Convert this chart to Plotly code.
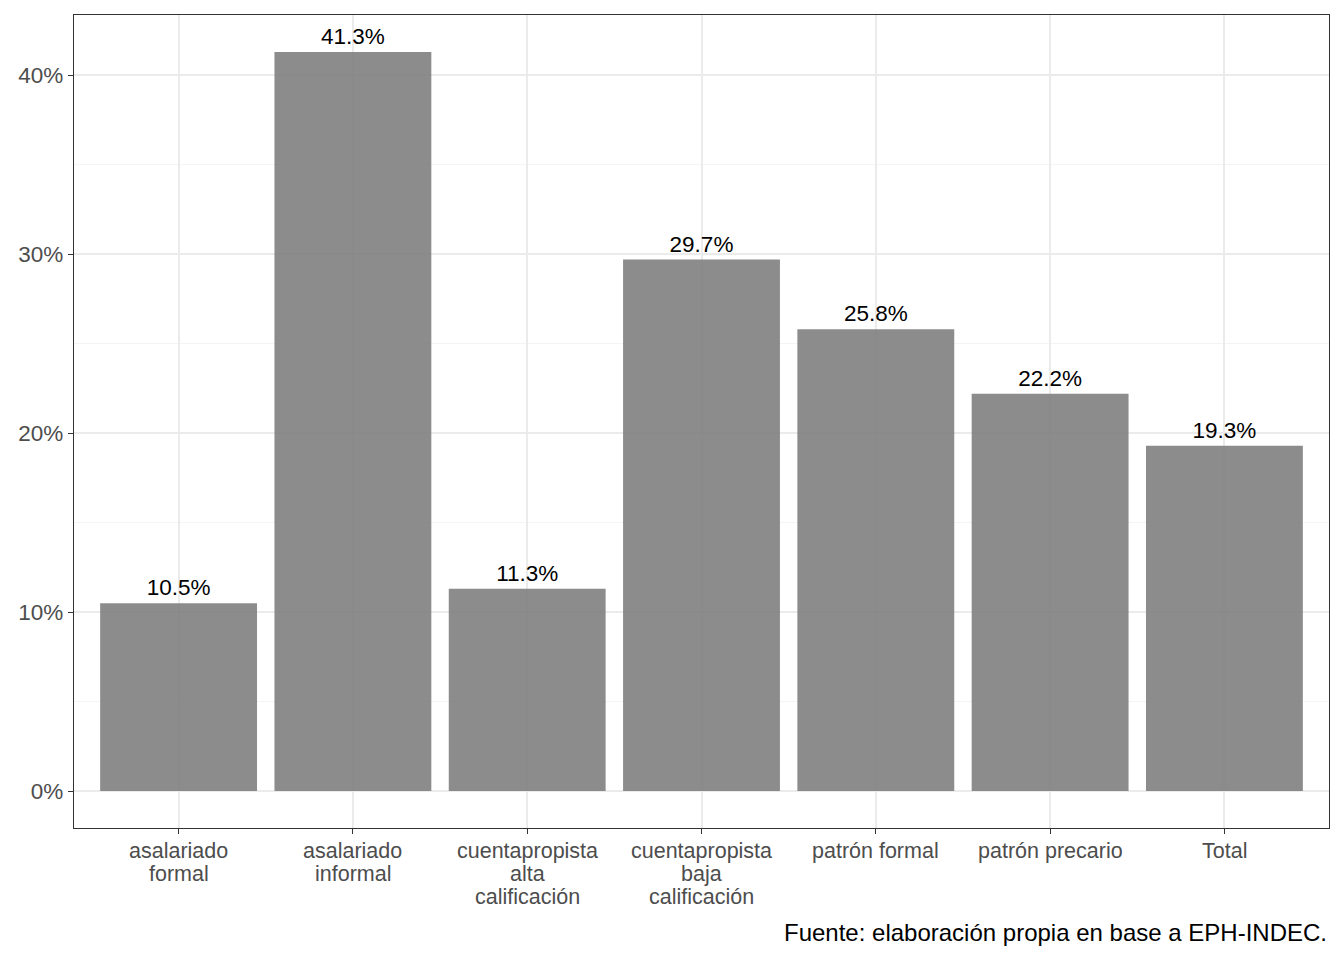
import plotly.graph_objects as go

categories = ["asalariado<br>formal", "asalariado<br>informal", "cuentapropista<br>alta<br>calificación",
              "cuentapropista<br>baja<br>calificación", "patrón formal", "patrón precario", "Total"]
values = [10.5, 41.3, 11.3, 29.7, 25.8, 22.2, 19.3]
labels = ["10.5%", "41.3%", "11.3%", "29.7%", "25.8%", "22.2%", "19.3%"]
y_ticks = [0, 10, 20, 30, 40]
y_ticklabels = ["0%", "10%", "20%", "30%", "40%"]
caption = "Fuente: elaboración propia en base a EPH-INDEC."

FONT = "Liberation Sans, Arial, sans-serif"
x_idx = list(range(len(categories)))

fig = go.Figure()
fig.add_trace(go.Bar(
    x=x_idx, y=values, width=0.9,
    marker=dict(color="rgba(127,127,127,0.9)", line=dict(width=0)),
    text=labels, textposition="outside", cliponaxis=False,
    textfont=dict(family=FONT, size=22.5, color="black"),
    hoverinfo="skip",
))

annotations = [dict(
    text=caption, x=1, y=-0.129, xref="paper", yref="paper",
    xanchor="right", yanchor="middle", showarrow=False,
    font=dict(family=FONT, size=24, color="black"),
)]
# x tick labels drawn as annotations to match the tighter line spacing
for i, cat in enumerate(categories):
    for j, line in enumerate(cat.split("<br>")):
        annotations.append(dict(
            text=line, x=i, xref="x", y=0, yref="paper",
            xanchor="center", yanchor="middle", yshift=-23 - 23 * j,
            showarrow=False,
            font=dict(family=FONT, size=21.5, color="#4D4D4D"),
        ))

fig.update_layout(
    width=1336, height=952,
    margin=dict(l=66, r=15, t=7, b=132),
    paper_bgcolor="white", plot_bgcolor="white",
    showlegend=False,
    font=dict(family=FONT),
    bargap=0.1,
    annotations=annotations,
)
fig.update_xaxes(
    range=[-0.6, 6.6], tickmode="array", tickvals=x_idx, showticklabels=False,
    showgrid=True, gridcolor="#EBEBEB", gridwidth=1.5,
    ticks="outside", ticklen=5, tickwidth=1.3, tickcolor="#333333",
    showline=True, linecolor="#333333", linewidth=1.3, mirror=True,
    zeroline=False, fixedrange=True,
)
fig.update_yaxes(
    range=[-2.065, 43.365], tickmode="array", tickvals=y_ticks, ticktext=y_ticklabels,
    showgrid=True, gridcolor="#EBEBEB", gridwidth=1.5,
    minor=dict(tickmode="array", tickvals=[5, 15, 25, 35], showgrid=True,
               gridcolor="#F4F4F4", gridwidth=0.9, ticks=""),
    ticks="outside", ticklen=5, tickwidth=1.3, tickcolor="#333333",
    tickfont=dict(family=FONT, size=22.5, color="#4D4D4D"),
    showline=True, linecolor="#333333", linewidth=1.3, mirror=True,
    zeroline=False, fixedrange=True,
)

fig.write_html("out.html")
